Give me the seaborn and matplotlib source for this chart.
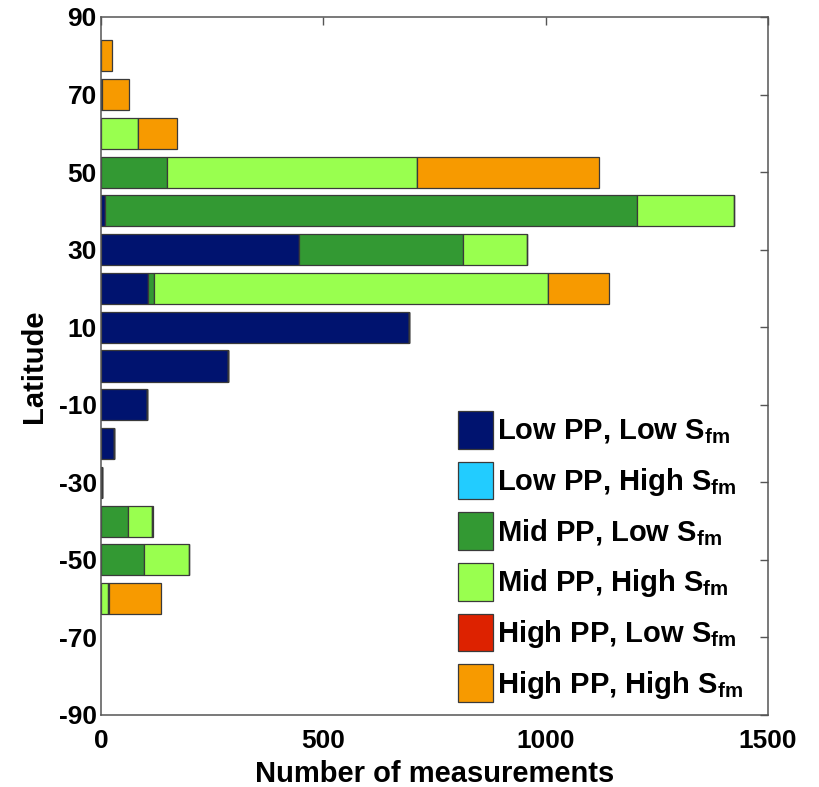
import numpy as np
import pandas as pd
import matplotlib
matplotlib.use("Agg")
import matplotlib.pyplot as plt
import seaborn as sns
from matplotlib.patches import Patch

# Latitude band centres (10-degree bands)
latitude = [80, 70, 60, 50, 40, 30, 20, 10, 0, -10, -20, -30, -40, -50, -60]

# Number of measurements per band for each regime
low_pp_low_s = [0, 0, 0, 0, 10, 445, 105, 692, 286, 103, 30, 2, 0, 0, 0]
low_pp_high_s = [0, 0, 0, 0, 0, 0, 0, 0, 0, 0, 0, 0, 0, 0, 0]
mid_pp_low_s = [0, 2, 0, 148, 1195, 370, 14, 0, 0, 0, 0, 0, 60, 96, 0]
mid_pp_high_s = [0, 0, 84, 563, 219, 144, 887, 0, 0, 0, 0, 0, 55, 102, 15]
high_pp_low_s = [0, 0, 0, 0, 0, 0, 0, 0, 0, 0, 0, 0, 0, 0, 3]
high_pp_high_s = [25, 61, 86, 408, 0, 0, 136, 0, 0, 0, 0, 0, 3, 0, 116]

regimes = [
    r"Low PP, Low S$_{\mathrm{fm}}$",
    r"Low PP, High S$_{\mathrm{fm}}$",
    r"Mid PP, Low S$_{\mathrm{fm}}$",
    r"Mid PP, High S$_{\mathrm{fm}}$",
    r"High PP, Low S$_{\mathrm{fm}}$",
    r"High PP, High S$_{\mathrm{fm}}$",
]
series = [low_pp_low_s, low_pp_high_s, mid_pp_low_s,
          mid_pp_high_s, high_pp_low_s, high_pp_high_s]
colors = ["#00136f", "#22ccff", "#339933", "#99ff4f", "#dd2200", "#f79a00"]

rows = []
for name, values in zip(regimes, series):
    for lat, n in zip(latitude, values):
        rows.append({"lat": lat, "count": n, "regime": name})
df = pd.DataFrame(rows)

sns.set_theme(style="white")
plt.rcParams["font.family"] = ["Liberation Sans", "DejaVu Sans"]
plt.rcParams["font.weight"] = "bold"
plt.rcParams["text.color"] = "black"
plt.rcParams["axes.labelcolor"] = "black"
plt.rcParams["xtick.color"] = "black"
plt.rcParams["ytick.color"] = "black"
plt.rcParams["axes.unicode_minus"] = False
plt.rcParams["mathtext.fontset"] = "custom"
plt.rcParams["mathtext.rm"] = "Liberation Sans:bold"
plt.rcParams["mathtext.it"] = "Liberation Sans:bold"
plt.rcParams["mathtext.bf"] = "Liberation Sans:bold"
plt.rcParams["mathtext.default"] = "rm"

fig = plt.figure(figsize=(8.19, 7.87), dpi=100)
ax = fig.add_axes([101 / 819, 72 / 787, 667 / 819, 698 / 787])

palette = dict(zip(regimes, colors))
# seaborn stacks the last hue level nearest the axis, so feed the order reversed
sns.histplot(
    data=df, y="lat", weights="count", hue="regime",
    hue_order=regimes[::-1], palette=palette,
    multiple="stack", binwidth=10, binrange=(-65, 85), shrink=0.8,
    edgecolor="#3a3a3a", linewidth=0.9, alpha=1, legend=False, ax=ax,
)

ax.set_xlim(0, 1500)
ax.set_ylim(-90, 90)
ax.set_xticks([0, 500, 1000, 1500])
ax.set_yticks(np.arange(-90, 91, 20))
ax.tick_params(axis="both", which="both", direction="in", length=6, width=1,
               color="#555555", labelcolor="black", labelsize=19,
               top=True, right=True)
ax.tick_params(axis="x", pad=10)
ax.tick_params(axis="y", pad=3)
for lab in ax.get_xticklabels() + ax.get_yticklabels():
    lab.set_fontweight("bold")
for sp in ax.spines.values():
    sp.set_color("#555555")
    sp.set_linewidth(1.1)

ax.set_xlabel("Number of measurements", fontsize=21, fontweight="bold",
              labelpad=5, color="black")
ax.set_ylabel("Latitude", fontsize=21, fontweight="bold", labelpad=8,
              color="black")

handles = [Patch(facecolor=c, edgecolor="#3a3a3a", linewidth=0.9) for c in colors]
leg = ax.legend(handles, regimes, loc="lower left", bbox_to_anchor=(0.535, 0.019),
                frameon=False, fontsize=21, handlelength=1.2, handleheight=1.6,
                handletextpad=0.15, labelspacing=0.45, borderpad=0, borderaxespad=0)
for t in leg.get_texts():
    t.set_fontweight("bold")
    t.set_color("black")

fig.savefig("out.png", dpi=100)
